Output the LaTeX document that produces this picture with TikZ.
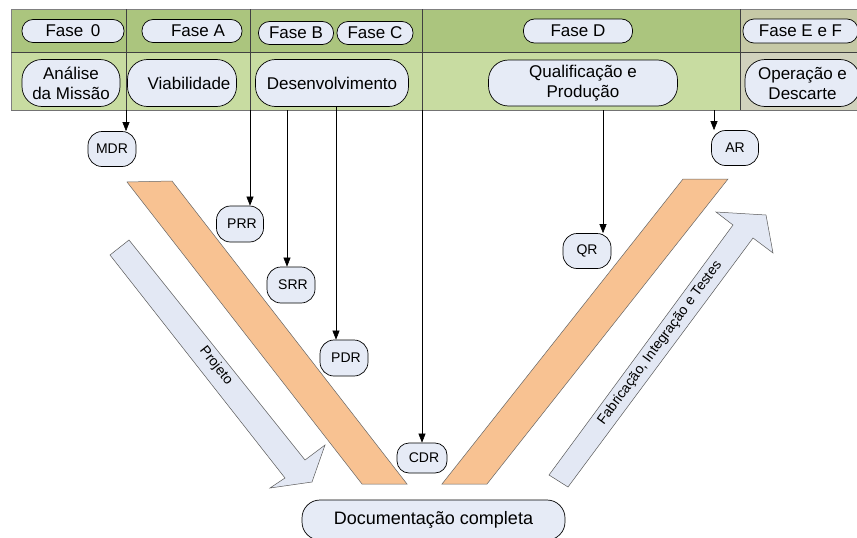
\documentclass[tikz,border=0pt]{standalone}
\usepackage{fontspec}
\setmainfont{Liberation Sans}
\usetikzlibrary{arrows.meta}
\definecolor{rowA}{HTML}{ABC57E}
\definecolor{rowB}{HTML}{C8DCA1}
\definecolor{greyA}{HTML}{C6C9A6}
\definecolor{greyB}{HTML}{D1D2BD}
\definecolor{nodefill}{HTML}{E6EBF6}
\definecolor{orangeband}{HTML}{F8C292}
\definecolor{bluearrow}{HTML}{E3E8F4}
\begin{document}
\begin{tikzpicture}[x=1pt,y=-1pt,
  box/.style={draw=black, line width=0.7pt, fill=nodefill, rounded corners=#1,
    inner sep=0pt, align=center, font=\fontsize{17}{20}\selectfont},
  box/.default=11pt,
  smallbox/.style={box=14pt, font=\fontsize{14}{16}\selectfont},
  arr/.style={-{Triangle[length=9pt,width=7pt]}, line width=0.6pt, black},
  sep/.style={line width=0.7pt, black!75},
  band/.style={draw=black!65, line width=0.5pt}
]
\useasboundingbox (0,0) rectangle (857,538);
\fill[white] (0,0) rectangle (857,538);

% header band
\fill[rowA] (11,9) rectangle (740,52);
\fill[rowB] (11,52) rectangle (740,110);
\fill[greyA] (740,9) rectangle (857,52);
\fill[greyB] (740,52) rectangle (857,110);
\draw[black!50, line width=0.6pt] (857,9) -- (11,9) -- (11,110);
\draw[sep] (11,52) -- (857,52);
\draw[black!55, line width=0.6pt] (11,110) -- (857,110);
\foreach \xx in {126,250,422,740} \draw[sep] (\xx,9) -- (\xx,110);

% phase nodes
\node[box, minimum width=102pt, minimum height=23pt] (f0) at (73,31) {Fase\, 0};
\node[box, minimum width=100pt, minimum height=23pt] (fa) at (192,31) {\hspace{12pt}Fase A};
\node[box, minimum width=75pt, minimum height=23pt] (fb) at (296,33) {Fase B};
\node[box, minimum width=76pt, minimum height=23pt] (fc) at (375,33) {Fase C};
\node[box, minimum width=109pt, minimum height=24pt] (fd) at (578,31) {Fase D};
\node[box, minimum width=115pt, minimum height=24pt] (fef) at (800.5,31) {Fase E e F};

\node[box=20pt, minimum width=98pt, minimum height=47pt] (an) at (71,83) {Análise\\da Missão};
\node[box=20pt, minimum width=109pt, minimum height=47pt] (vi) at (182,83) {\hspace{14pt}Viabilidade};
\node[box=20pt, minimum width=153pt, minimum height=47pt] (de) at (332,83) {Desenvolvimento};
\node[box=20pt, minimum width=189pt, minimum height=46pt] (qp) at (583,83) {Qualificação e\\Produção};
\node[box=20pt, minimum width=115pt, minimum height=47pt] (od) at (802.5,83) {Operação e\\Descarte};

% V bands
\draw[black!60, line width=0.5pt, fill=orangeband]
  (127,182) -- (172,181) -- (407,484) -- (362,484) -- cycle;
\draw[black!60, line width=0.5pt, fill=orangeband]
  (683,179) -- (728,179) -- (487,484) -- (442,484) -- cycle;

% big arrows
\draw[band, fill=bluearrow]
  (110,255) -- (129,240) -- (305,460) -- (325,445) -- (312,482) -- (270,488) -- (285,478) -- cycle;
\node[rotate=-51.9, font=\fontsize{14}{16}\selectfont] (proj) at (216,366) {Projeto};
\draw[band, fill=bluearrow]
  (549,475) -- (568,487) -- (753,238) -- (773,253) -- (766,215) -- (716,212) -- (733,225) -- cycle;
\node[rotate=53.6, font=\fontsize{14}{16}\selectfont] (fit) at (660,343) {Fabricação, Integração e Testes};

% review nodes
\node[smallbox, minimum width=48pt, minimum height=35pt] (mdr) at (112,149) {MDR};
\node[smallbox, minimum width=47pt, minimum height=36pt] (prr) at (240,224) {\hspace{4pt}PRR};
\node[smallbox, minimum width=48pt, minimum height=36pt] (srr) at (291,285) {\hspace{4pt}SRR};
\node[smallbox, minimum width=48pt, minimum height=36pt] (pdr) at (344,358) {\hspace{4pt}PDR};
\node[box=12pt, font=\fontsize{14}{16}\selectfont, minimum width=50pt, minimum height=30pt] (cdr) at (422,458) {\hspace{4pt}CDR};
\node[smallbox, minimum width=48pt, minimum height=35pt] (qr) at (587,251) {QR};
\node[smallbox, minimum width=47pt, minimum height=35pt] (ar) at (735,148) {AR};

\node[box=18pt, font=\fontsize{18}{21}\selectfont, minimum width=263pt, minimum height=40pt] (doc) at (433.5,520) {Documentação completa};

% connectors
\coordinate (pmdr) at (126,110);
\coordinate (pprr) at (250,110);
\coordinate (psrr) at (287,110);
\coordinate (ppdr) at (336,106.5);
\coordinate (pcdr) at (422,110);
\coordinate (pqr) at (603,110);
\coordinate (par) at (714,110);
\draw[arr] (pmdr) -- (pmdr |- mdr.north);
\draw[arr] (pprr) -- (pprr |- prr.north);
\draw[arr] (psrr) -- (psrr |- srr.north);
\draw[arr] (ppdr) -- (ppdr |- pdr.north);
\draw[arr] (pcdr) -- (pcdr |- cdr.north);
\draw[arr] (pqr) -- (pqr |- qr.north);
\draw[arr] (par) -- (par |- ar.north);
\end{tikzpicture}
\end{document}
